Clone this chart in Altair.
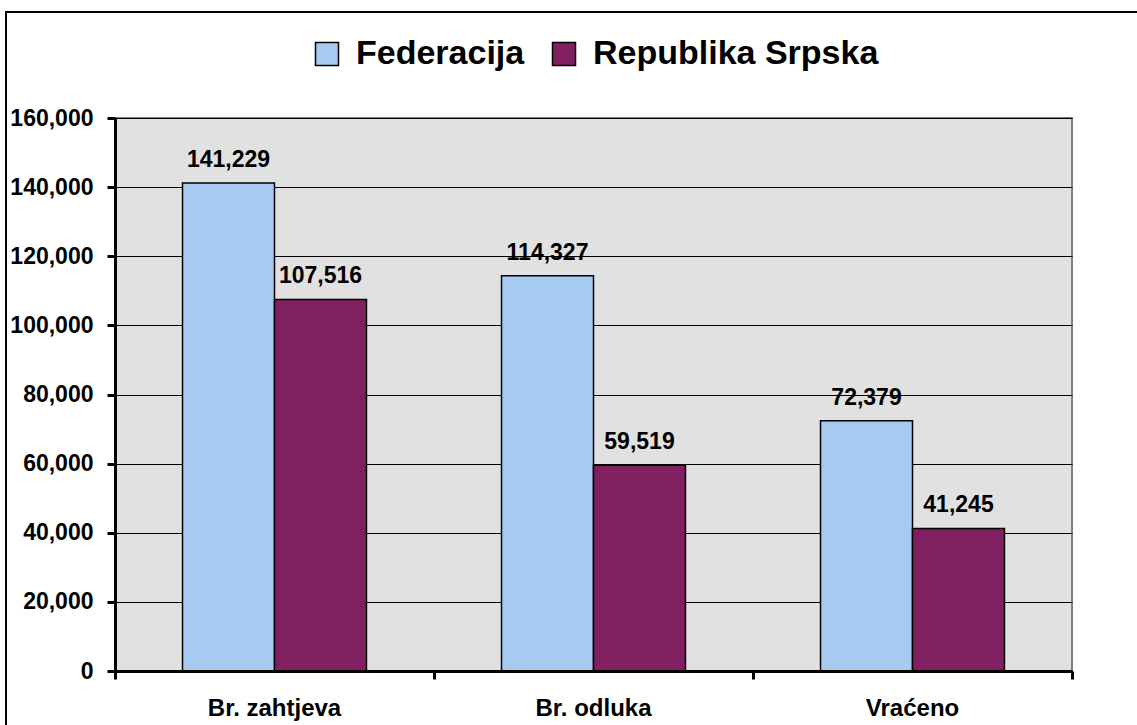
import altair as alt
import pandas as pd

categories = ["Br. zahtjeva", "Br. odluka", "Vraćeno"]
series = ["Federacija", "Republika Srpska"]
federacija = [141229, 114327, 72379]
republika_srpska = [107516, 59519, 41245]
colors = ["#A6CAF0", "#802060"]
y_ticks = [0, 20000, 40000, 60000, 80000, 100000, 120000, 140000, 160000]
band_edges = [0, 1, 2, 3]

rows = []
for i, c in enumerate(categories):
    rows.append({"kat": c, "serija": series[0], "vrijednost": federacija[i]})
    rows.append({"kat": c, "serija": series[1], "vrijednost": republika_srpska[i]})
df = pd.DataFrame(rows)

FONT = "Liberation Sans"
W, H = 957, 553

x_scale = alt.Scale(paddingInner=0, paddingOuter=0)
xoff = alt.XOffset("serija:N", sort=series,
                   scale=alt.Scale(paddingOuter=0.734, paddingInner=0))
y_axis = alt.Axis(title=None, values=y_ticks, format=",.0f", tickSize=8, tickWidth=3,
                  tickColor="black", domainColor="black", domainWidth=3,
                  grid=True, gridColor="black", gridWidth=1,
                  labelFont=FONT, labelFontSize=23, labelFontWeight="bold",
                  labelColor="black", labelPadding=14)
y_enc = alt.Y("vrijednost:Q", scale=alt.Scale(domain=[0, 160000], nice=False), axis=y_axis)

color = alt.Color("serija:N", sort=series,
                  scale=alt.Scale(domain=series, range=colors),
                  legend=alt.Legend(title=None, orient="none", direction="horizontal",
                                    legendX=195, legendY=-81, symbolType="square",
                                    symbolSize=529, symbolStrokeColor="black",
                                    symbolStrokeWidth=1.5, symbolOpacity=1,
                                    labelFont=FONT, labelFontSize=34,
                                    labelFontWeight="bold", labelColor="black",
                                    labelOffset=12, columnPadding=22, labelLimit=0))

bars = alt.Chart(df).mark_bar(stroke="black", strokeWidth=1.5).encode(
    x=alt.X("kat:N", sort=categories, scale=x_scale,
            axis=alt.Axis(title=None, ticks=False, domain=False, labelAngle=0,
                          labelFont=FONT, labelFontWeight="bold", labelFontSize=24,
                          labelColor="black", labelPadding=25, orient="bottom")),
    xOffset=xoff,
    y=y_enc,
    color=color,
)

labels = alt.Chart(df).mark_text(font=FONT, fontSize=23, fontWeight="bold",
                                 color="black", baseline="alphabetic", dy=-16).encode(
    x=alt.X("kat:N", sort=categories, scale=x_scale, axis=None),
    xOffset=xoff,
    y=y_enc,
    text=alt.Text("vrijednost:Q", format=",.0f"),
)

ticks_layer = alt.Chart(df).mark_point(opacity=0).encode(
    x=alt.XDatum(0, type="quantitative",
                 scale=alt.Scale(domain=[0, 3], nice=False, zero=False),
                 axis=alt.Axis(title=None, values=band_edges, labels=False, grid=False,
                               tickSize=8, tickWidth=3, tickColor="black",
                               domainColor="black", domainWidth=3, orient="bottom",
                               zindex=1)),
)

frame = alt.Chart(df).mark_rect(fillOpacity=0, stroke="black", strokeWidth=1.5).encode(
    x=alt.value(-109), x2=alt.value(1040), y=alt.value(-106), y2=alt.value(620)
)

chart = alt.layer(frame, bars, labels, ticks_layer).resolve_scale(x="independent").properties(
    width=W, height=H,
    autosize=alt.AutoSizeParams(type="none"),
    padding={"left": 115, "top": 118, "right": 65, "bottom": 54},
    background="white",
).configure_view(fill="#E1E1E1", stroke="#808080", strokeWidth=2)

chart.save("out.html", embed_options={"renderer": "svg", "actions": False})
